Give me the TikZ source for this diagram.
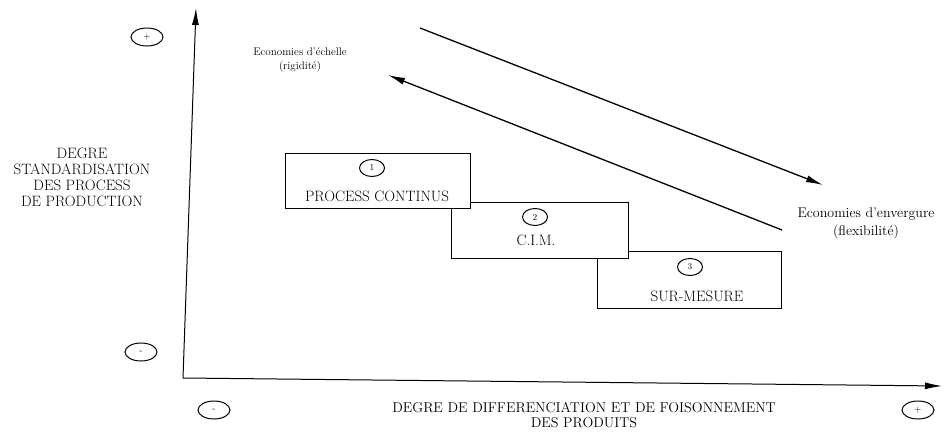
\documentclass[tikz,border=0pt]{standalone}
\usepackage{fontspec}
\usepackage{tikz}
\usetikzlibrary{arrows.meta, positioning, shapes.geometric, calc}

\begin{document}
\begin{tikzpicture}[x=1pt, y=-1pt, line width=1pt, >={Latex[length=17pt,width=7pt]},
        procbox/.style={draw, fill=white, rectangle, inner sep=0pt},
        numcirc/.style={draw, ellipse, inner sep=0pt, minimum width=25pt, minimum height=17pt, font=\fontsize{9}{9}\selectfont},
        signcirc/.style={draw, ellipse, inner sep=0pt, minimum width=32pt, minimum height=18pt, font=\fontsize{9}{9}\selectfont},
        caps/.style={font=\fontsize{15}{16}\selectfont}]
                \useasboundingbox (0,0) rectangle (951,434);
                % axes
                \coordinate (o) at (183,378);
                \coordinate (ytop) at (196,8);
                \coordinate (xend) at (942,386);
                \draw[->] (o) -- (ytop);
                \draw[->] (o) -- (xend);
                \node[signcirc] (yplus) at (147,37) {+};
                \node[signcirc] (yminus) at (141,352) {-};
                \node[signcirc] (xminus) at (214,410) {-};
                \node[signcirc] (xplus) at (918,410) {+};
                \node[caps, align=center] (ylab) at (82,177) {DEGRE\\STANDARDISATION\\DES PROCESS\\DE PRODUCTION};
                \node[align=center, font=\fontsize{14.2}{15}\selectfont] (xlab) at (584,415) {DEGRE DE DIFFERENCIATION ET DE FOISONNEMENT\\DES PRODUITS};
                % boxes
                \node[procbox, minimum width=184pt, minimum height=57pt] (box3) at (689,279.5) {};
                \node[procbox, minimum width=177pt, minimum height=56pt] (box2) at (539.5,230) {};
                \node[procbox, minimum width=185pt, minimum height=55pt] (box1) at (377.5,180.5) {};
                \node[numcirc] (n1) at (372,168) {1};
                \node[caps] (t1) at (377,196) {PROCESS CONTINUS};
                \node[numcirc] (n2) at (535,217) {2};
                \node[caps] (t2) at (536,240) {C.I.M.};
                \node[numcirc] (n3) at (690,267) {3};
                \node[caps] (t3) at (697,296) {SUR-MESURE};
                % economies
                \coordinate (a1s) at (420,28);
                \coordinate (a1e) at (823,185);
                \coordinate (a2s) at (782,230);
                \coordinate (a2e) at (388,75);
                \path[->, line width=1.3pt]
                (a1s) edge (a1e)
                (a2s) edge (a2e);
                \node[align=center, font=\fontsize{11}{14}\selectfont] (echelle) at (300,60) {Economies d'échelle\\(rigidité)};
                \node[align=center, font=\fontsize{14}{18}\selectfont] (envergure) at (866,223) {Economies d'envergure\\(flexibilité)};
        \end{tikzpicture}
\end{document}
